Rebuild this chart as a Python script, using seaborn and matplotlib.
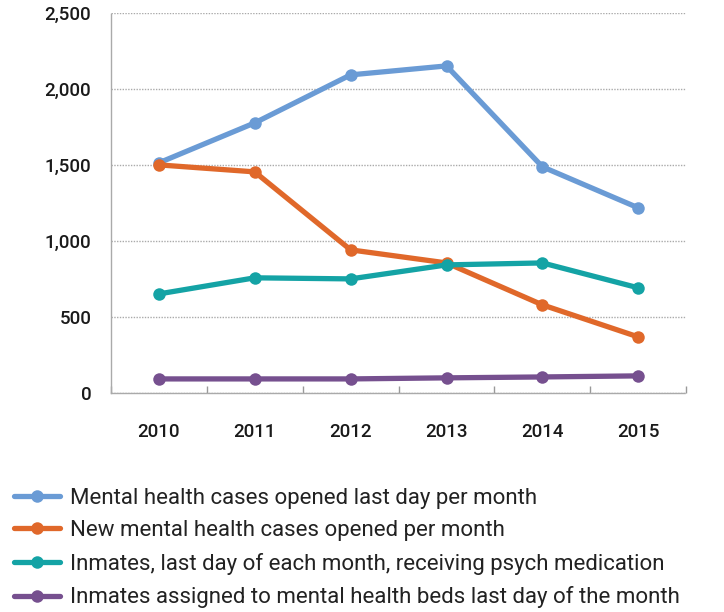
import matplotlib.pyplot as plt
import pandas as pd
import seaborn as sns

years = ["2010", "2011", "2012", "2013", "2014", "2015"]
cases_last_day = [1513, 1776, 2092, 2151, 1487, 1217]
new_cases = [1500, 1454, 941, 855, 579, 368]
psych_medication = [651, 757, 750, 842, 855, 691]
mh_beds = [92, 92, 92, 99, 105, 112]

series_names = [
    "Mental health cases opened last day per month",
    "New mental health cases opened per month",
    "Inmates, last day of each month, receiving psych medication",
    "Inmates assigned to mental health beds last day of the month",
]
colors = ["#6A9BD5", "#E0682A", "#14A3A5", "#76508F"]

rows = []
for name, values in zip(series_names, [cases_last_day, new_cases, psych_medication, mh_beds]):
    for i, v in enumerate(values):
        rows.append({"x": i, "year": years[i], "value": v, "series": name})
df = pd.DataFrame(rows)

sns.set_style("white")
plt.rcParams["font.family"] = ["Roboto", "DejaVu Sans"]

fig = plt.figure(figsize=(7.24, 6.12), dpi=100)
ax = fig.add_axes([0.153, 0.358, 0.795, 0.621])

sns.lineplot(
    data=df, x="x", y="value", hue="series", hue_order=series_names,
    palette=colors, marker="o", markersize=9, markeredgewidth=0,
    linewidth=3.8, ax=ax, legend=True,
)

ax.set_xlim(-0.5, 5.5)
ax.set_ylim(0, 2500)
ax.set_yticks([0, 500, 1000, 1500, 2000, 2500])
ax.set_yticklabels(["0", "500", "1,000", "1,500", "2,000", "2,500"],
                   fontsize=13.5, color="#1a1a1a", fontweight="medium")
ax.set_xticks(range(6))
ax.set_xticklabels(years, fontsize=13.5, color="#1a1a1a", fontweight="medium")
ax.set_xticks([i + 0.5 for i in range(-1, 6)], minor=True)
ax.tick_params(axis="x", which="major", length=0, pad=22)
ax.tick_params(axis="y", which="major", length=0, pad=14)
ax.tick_params(axis="x", which="minor", bottom=True, direction="in",
               length=5, color="#999999", width=1)
ax.set_xlabel("")
ax.set_ylabel("")

ax.yaxis.grid(True, linestyle=(0, (1, 1)), color="#aaaaaa", linewidth=1)
ax.set_axisbelow(True)
for side in ["top", "right"]:
    ax.spines[side].set_visible(False)
for side in ["left", "bottom"]:
    ax.spines[side].set_linestyle((0, (1, 1)))
    ax.spines[side].set_color("#aaaaaa")
    ax.spines[side].set_linewidth(1)

handles, labels = ax.get_legend_handles_labels()
ax.legend(
    handles, labels, loc="upper left", bbox_to_anchor=(-0.184, -0.226),
    frameon=False, fontsize=16, handlelength=2.07, handletextpad=0.45,
    labelspacing=0.52, borderaxespad=0, labelcolor="#222222",
)

fig.savefig("out.png", dpi=100)
